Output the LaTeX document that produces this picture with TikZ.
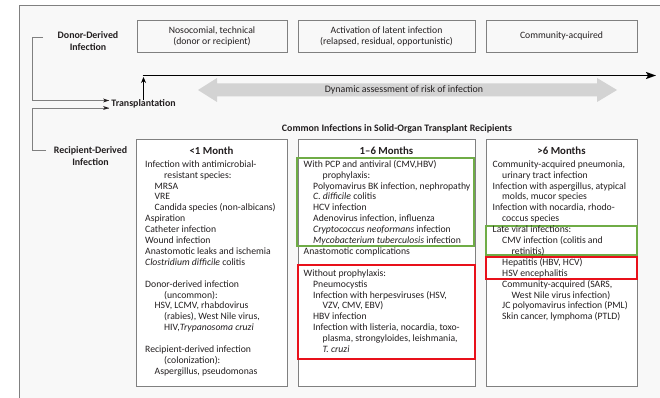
\documentclass[tikz,border=0pt]{standalone}
\usepackage{fontspec}
\setmainfont{Carlito}
\usetikzlibrary{arrows.meta}
\definecolor{txt}{HTML}{231F20}
\definecolor{framec}{HTML}{808080}
\definecolor{bgc}{HTML}{F8F8F8}
\definecolor{grn}{HTML}{6FAC46}
\definecolor{rd}{HTML}{E8101A}
\definecolor{garrow}{HTML}{D3D3D3}
\newcommand{\ia}{\hspace*{9.5pt}}
\newcommand{\ib}{\hspace*{19pt}}
\newcommand{\fst}{\rule{0pt}{8pt}}
\begin{document}
\begin{tikzpicture}[x=1pt,y=-1pt,
  every node/.style={text=txt, font=\fontsize{9.7}{10.9}\selectfont},
  topbox/.style={draw=framec, line width=0.9pt, minimum height=32pt, align=center, inner sep=0pt},
  colbox/.style={draw=framec, fill=white, line width=0.9pt, anchor=north west, inner sep=0pt},
  block/.style={anchor=north west, align=left, inner sep=0pt},
  lbl/.style={font=\bfseries\fontsize{9.9}{12}\selectfont, align=center, inner sep=0pt},
  hdr/.style={font=\bfseries\fontsize{10.8}{12}\selectfont, inner sep=0pt},
  conn/.style={draw=framec, line width=0.8pt},
  gbox/.style={draw=grn, line width=1.4pt},
  rbox/.style={draw=rd, line width=1.6pt}
]
\useasboundingbox (0,0) rectangle (660,398);
\fill[white] (0,0) rectangle (660,398);
\begin{scope}
\clip (0,0) rectangle (660,398);
\draw[framec, fill=bgc, line width=1pt] (19,6) rectangle (700,430);
\end{scope}

% top boxes
\node[topbox, minimum width=150pt] (nos) at (212,36) {Nosocomial, technical\\(donor or recipient)};
\node[topbox, minimum width=177pt] (act) at (386.5,36) {Activation of latent infection\\(relapsed, residual, opportunistic)};
\node[topbox, minimum width=151pt] (com) at (561.5,36) {Community-acquired};

% labels
\node[lbl] (donor) at (88,41.5) {Donor-Derived\\Infection};
\node[lbl] (recip) at (90.5,156.5) {Recipient-Derived\\Infection};
\node[lbl] (trans) at (143.5,104) {Transplantation};

% gray dynamic arrow
\fill[garrow] (198,90) -- (217,78) -- (217,83.5) -- (597,83.5) -- (597,78) -- (617,90)
  -- (597,102) -- (597,96.5) -- (217,96.5) -- (217,102) -- cycle;
\node[font=\fontsize{9.9}{12}\selectfont] (dyn) at (404,89.5) {Dynamic assessment of risk of infection};

% timeline
\coordinate (tl0) at (143.5,75.5);
\coordinate (tl1) at (656,75.5);
\draw[line width=1.6pt, -{Stealth[length=10pt,width=7pt,inset=2pt]}] ([xshift=-0.8pt]tl0) -- (tl1);
\draw[line width=1.3pt, -{Stealth[length=6pt,width=5pt]}] (trans.north) -- ([yshift=-1.5pt]tl0);

% bracket connectors
\coordinate (d0) at (43,37.5);
\coordinate (r0) at (46,150.5);
\draw[conn] (d0) -- (32.5,37.5) |- ([yshift=3.5pt,xshift=-2pt]trans.west);
\draw[conn] (r0) -- (32.5,150.5) |- ([yshift=-4pt,xshift=-2pt]trans.west);
\fill[txt] ([yshift=3.5pt,xshift=-2pt]trans.west) -- ++(-6pt,2pt) -- ++(1.5pt,-2pt) -- ++(-1.5pt,-2pt) -- cycle;
\fill[txt] ([yshift=-4pt,xshift=-2pt]trans.west) -- ++(-6pt,2pt) -- ++(1.5pt,-2pt) -- ++(-1.5pt,-2pt) -- cycle;

\node[lbl] (title) at (397,129) {Common Infections in Solid-Organ Transplant Recipients};

% columns
\node[colbox, minimum width=151pt, minimum height=247pt] (c1) at (136,139) {};
\node[colbox, minimum width=177pt, minimum height=247pt] (c2) at (298,139) {};
\node[colbox, minimum width=151pt, minimum height=247pt] (c3) at (486,139) {};

\node[hdr] (h1) at (211.5,150.5) {<1 Month};
\node[hdr] (h2) at (386.5,150.5) {1–6 Months};
\node[hdr] (h3) at (561.5,150.5) {>6 Months};

% highlight boxes
\draw[gbox] (297,158) rectangle (474,246);
\draw[rbox] (298,265) rectangle (475,359);
\draw[gbox] (486,226) rectangle (637,255);
\draw[rbox] (486,257) rectangle (637,279);

% text blocks
\node[block] (t1) at (145,159) {\fst Infection with antimicrobial-\\
\ib resistant species:\\
\ia MRSA\\
\ia VRE\\
\ia Candida species (non-albicans)\\
Aspiration\\
Catheter infection\\
Wound infection\\
Anastomotic leaks and ischemia\\
\textit{Clostridium difficile} colitis\\
\mbox{}\\
Donor-derived infection\\
\ib (uncommon):\\
\ia HSV, LCMV, rhabdovirus\\
\ib (rabies), West Nile virus,\\
\ib HIV,\textit{Trypanosoma cruzi}\\
\mbox{}\\
Recipient-derived infection\\
\ib (colonization):\\
\ia Aspergillus, pseudomonas};

\node[block] (t2) at (303.5,159) {\fst With PCP and antiviral (CMV,HBV)\\
\ib prophylaxis:\\
\ia Polyomavirus BK infection, nephropathy\\
\ia \textit{C. difficile} colitis\\
\ia HCV infection\\
\ia Adenovirus infection, influenza\\
\ia \textit{Cryptococcus neoformans} infection\\
\ia \textit{Mycobacterium tuberculosis} infection\\
Anastomotic complications\\
\mbox{}\\
Without prophylaxis:\\
\ia Pneumocystis\\
\ia Infection with herpesviruses (HSV,\\
\ib VZV, CMV, EBV)\\
\ia HBV infection\\
\ia Infection with listeria, nocardia, toxo-\\
\ib plasma, strongyloides, leishmania,\\
\ib \textit{T. cruzi}};

\node[block] (t3) at (492.5,159) {\fst Community-acquired pneumonia,\\
\ia urinary tract infection\\
Infection with aspergillus, atypical\\
\ia molds, mucor species\\
Infection with nocardia, rhodo-\\
\ia coccus species\\
Late viral infections:\\
\ia CMV infection (colitis and\\
\ib retinitis)\\
\ia Hepatitis (HBV, HCV)\\
\ia HSV encephalitis\\
\ia Community-acquired (SARS,\\
\ib West Nile virus infection)\\
\ia JC polyomavirus infection (PML)\\
\ia Skin cancer, lymphoma (PTLD)};
\end{tikzpicture}
\end{document}
